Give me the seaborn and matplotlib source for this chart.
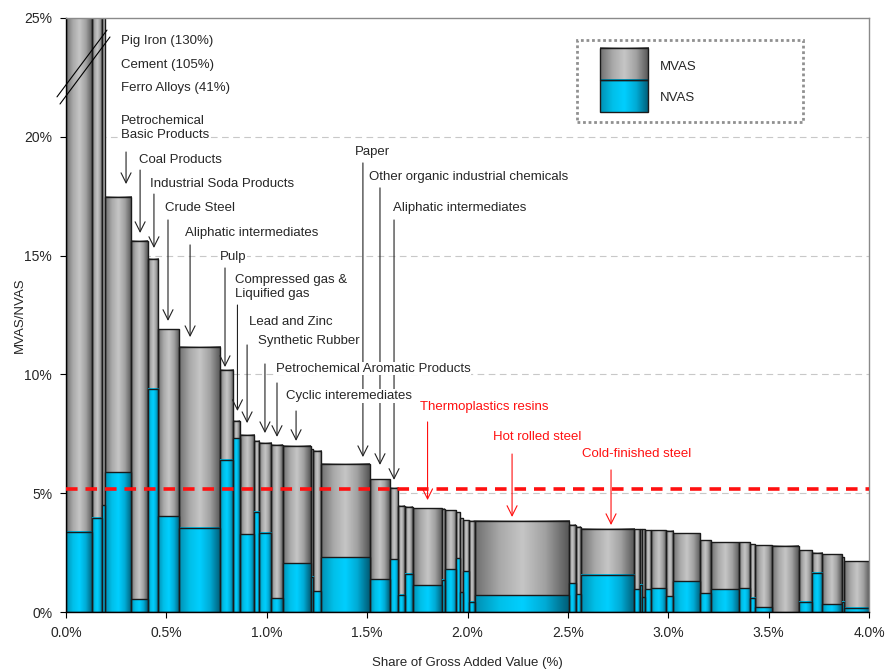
import numpy as np
import matplotlib
matplotlib.use("Agg")
import matplotlib.pyplot as plt
from matplotlib.patches import Rectangle
import seaborn as sns

# ---- data ----
# share of gross added value per sector (%), sectors sorted by MVAS
share = [0.130, 0.050, 0.016, 0.130, 0.080, 0.050, 0.105, 0.206, 0.065, 0.033,
         0.070, 0.025, 0.061, 0.059, 0.138, 0.013, 0.040, 0.244, 0.098, 0.043,
         0.033, 0.038, 0.146, 0.013, 0.057, 0.021, 0.015, 0.030, 0.026, 0.473,
         0.032, 0.023, 0.265, 0.029, 0.013, 0.013, 0.030, 0.075, 0.035, 0.136,
         0.053, 0.141, 0.055, 0.025, 0.086, 0.131, 0.068, 0.050, 0.097, 0.013,
         0.128]
mvas = [130.0, 105.0, 41.0, 17.48, 15.63, 14.87, 11.91, 11.17, 10.19, 8.04,
        7.45, 7.21, 7.13, 7.03, 7.00, 6.85, 6.78, 6.23, 5.58, 5.22,
        4.47, 4.42, 4.36, 4.35, 4.29, 4.19, 3.94, 3.87, 3.83, 3.83,
        3.68, 3.59, 3.51, 3.49, 3.49, 3.49, 3.45, 3.45, 3.41, 3.31,
        3.03, 2.93, 2.93, 2.86, 2.81, 2.78, 2.60, 2.50, 2.44, 2.30,
        2.13]
nvas = [3.38, 3.97, 4.50, 5.89, 0.53, 9.40, 4.04, 3.55, 6.40, 7.31,
        3.28, 4.22, 3.34, 0.58, 2.05, 1.49, 0.88, 2.30, 1.37, 2.23,
        0.72, 1.60, 1.12, 1.35, 1.80, 2.26, 0.83, 1.71, 0.43, 0.70,
        1.21, 0.74, 1.56, 0.95, 1.14, 0.62, 0.95, 1.00, 0.66, 1.30,
        0.79, 0.95, 1.00, 0.59, 0.21, 0.00, 0.43, 1.65, 0.32, 0.43,
        0.18]
avg_level = 5.18

x_ticks = [0.0, 0.5, 1.0, 1.5, 2.0, 2.5, 3.0, 3.5, 4.0]
y_ticks = [0, 5, 10, 15, 20, 25]

# labels: (text, text x, text y, arrow x, arrow start y, arrow tip y)
black_notes = [
    ("Petrochemical\nBasic Products", 0.274, 20.37, 0.299, 19.36, 18.01),
    ("Coal Products", 0.364, 19.02, 0.369, 18.60, 15.95),
    ("Industrial Soda Products", 0.418, 18.01, 0.438, 17.59, 15.32),
    ("Crude Steel", 0.493, 17.00, 0.508, 16.50, 12.25),
    ("Aliphatic intermediates", 0.593, 15.95, 0.618, 15.45, 11.57),
    ("Pulp", 0.767, 14.94, 0.792, 14.48, 10.31),
    ("Compressed gas &\nLiquified gas", 0.842, 13.68, 0.854, 12.92, 8.46),
    ("Lead and Zinc", 0.912, 12.21, 0.902, 11.24, 7.95),
    ("Synthetic Rubber", 0.956, 11.41, 0.991, 10.44, 7.53),
    ("Petrochemical Aromatic Products", 1.046, 10.23, 1.051, 9.64, 7.37),
    ("Cyclic interemediates", 1.096, 9.09, 1.146, 8.46, 7.20),
    ("Paper", 1.440, 19.36, 1.479, 18.90, 6.52),
    ("Other organic industrial chemicals", 1.509, 18.31, 1.564, 17.85, 6.19),
    ("Aliphatic intermediates", 1.629, 17.00, 1.634, 16.50, 5.56),
]
red_notes = [
    ("Thermoplastics resins", 1.763, 8.63, 1.801, 8.00, 4.71),
    ("Hot rolled steel", 2.127, 7.37, 2.222, 6.65, 4.00),
    ("Cold-finished steel", 2.570, 6.65, 2.715, 5.98, 3.66),
]
off_scale = ["Pig Iron (130%)", "Cement (105%)", "Ferro Alloys (41%)"]

# ---- style ----
sns.set_theme(style="white")
plt.rcParams["font.family"] = ["Liberation Sans", "DejaVu Sans"]

gray_cmap = sns.blend_palette(["#707070", "#a8a8a8", "#c6c6c6", "#a0a0a0", "#555555"], as_cmap=True)
cyan_cmap = sns.blend_palette(["#0090b4", "#00bfe8", "#00cfff", "#00aad4", "#005c76"], as_cmap=True)
grad = np.linspace(0, 1, 64).reshape(1, -1)


def gradient_bar(ax, x0, w, y0, h, cmap, z=2):
    ax.imshow(grad, extent=(x0, x0 + w, y0, y0 + h), cmap=cmap, aspect="auto",
              interpolation="bilinear", zorder=z)
    ax.add_patch(Rectangle((x0, y0), w, h, fill=False, ec="#1a1a1a", lw=1.0, zorder=z + 0.1))


fig = plt.figure(figsize=(8.85, 6.71), dpi=100)
ax = fig.add_axes([0.0746, 0.0879, 0.9073, 0.8853])

left = np.concatenate([[0], np.cumsum(share)[:-1]])
for x0, w, m, n in zip(left, share, mvas, nvas):
    gradient_bar(ax, x0, w, 0, m, gray_cmap)
    if n > 0:
        gradient_bar(ax, x0, w, 0, n, cyan_cmap, z=2.2)

# grid + average line
for yv in y_ticks[1:-1]:
    ax.axhline(yv, color="#c8c8c8", lw=0.8, ls=(0, (6, 4)), zorder=1)
ax.axhline(avg_level, color="#ff1010", lw=2.6, ls=(0, (3.2, 2.2)), zorder=5)

# break marks on the off-scale bars
ax.plot([-0.045, 0.204], [21.68, 24.49], color="black", lw=0.8, clip_on=False, zorder=6)
ax.plot([-0.030, 0.219], [21.38, 24.20], color="black", lw=0.8, clip_on=False, zorder=6)

for i, t in enumerate(off_scale):
    ax.text(0.274, 24.03 - i * 0.99, t, fontsize=9.5, va="center", ha="left", zorder=7)

box = dict(facecolor="white", edgecolor="none", pad=0.4)
for t, tx, ty, axx, y0, y1 in black_notes:
    ax.annotate("", xy=(axx, y1), xytext=(axx, y0),
                arrowprops=dict(arrowstyle="->,head_length=0.6,head_width=0.3",
                                color="#222222", lw=0.8, shrinkA=0, shrinkB=0), zorder=4)
    ax.text(tx, ty, t, fontsize=9.5, va="center", ha="left", zorder=7,
            linespacing=1.25, bbox=box)
for t, tx, ty, axx, y0, y1 in red_notes:
    ax.annotate("", xy=(axx, y1), xytext=(axx, y0),
                arrowprops=dict(arrowstyle="->,head_length=0.6,head_width=0.3",
                                color="#ff1010", lw=0.8, shrinkA=0, shrinkB=0), zorder=6)
    ax.text(tx, ty, t, fontsize=9.5, va="center", ha="left", color="#ff1010", zorder=7,
            bbox=box)

# legend drawn by hand to keep the gradient swatches
ax.add_patch(Rectangle((2.545, 20.62), 1.126, 3.45, fill=False, ec="#909090",
                       lw=2.0, ls=(0, (1, 1)), zorder=6))
gradient_bar(ax, 2.660, 0.240, 22.39, 1.35, gray_cmap, z=6)
gradient_bar(ax, 2.660, 0.240, 21.04, 1.35, cyan_cmap, z=6)
ax.text(2.959, 22.94, "MVAS", fontsize=9.5, va="center", zorder=7)
ax.text(2.959, 21.63, "NVAS", fontsize=9.5, va="center", zorder=7)

# axes
ax.set_xlim(0, 4.0)
ax.set_ylim(0, 25)
ax.set_xticks(x_ticks)
ax.set_xticklabels([f"{v:.1f}%" for v in x_ticks], fontsize=10)
ax.set_yticks(y_ticks)
ax.set_yticklabels([f"{v}%" for v in y_ticks], fontsize=10)
ax.tick_params(axis="both", direction="out", length=4, width=0.8, color="black",
               bottom=True, left=True, pad=6)
ax.set_xlabel("Share of Gross Added Value (%)", fontsize=9.5, labelpad=12)
ax.set_ylabel("MVAS/NVAS", fontsize=9.5, labelpad=-1)
for s in ["left", "bottom"]:
    ax.spines[s].set_color("black")
    ax.spines[s].set_linewidth(1.0)
for s in ["top", "right"]:
    ax.spines[s].set_color("#8a8a8a")
    ax.spines[s].set_linewidth(1.0)

fig.savefig("out.png", dpi=100)
